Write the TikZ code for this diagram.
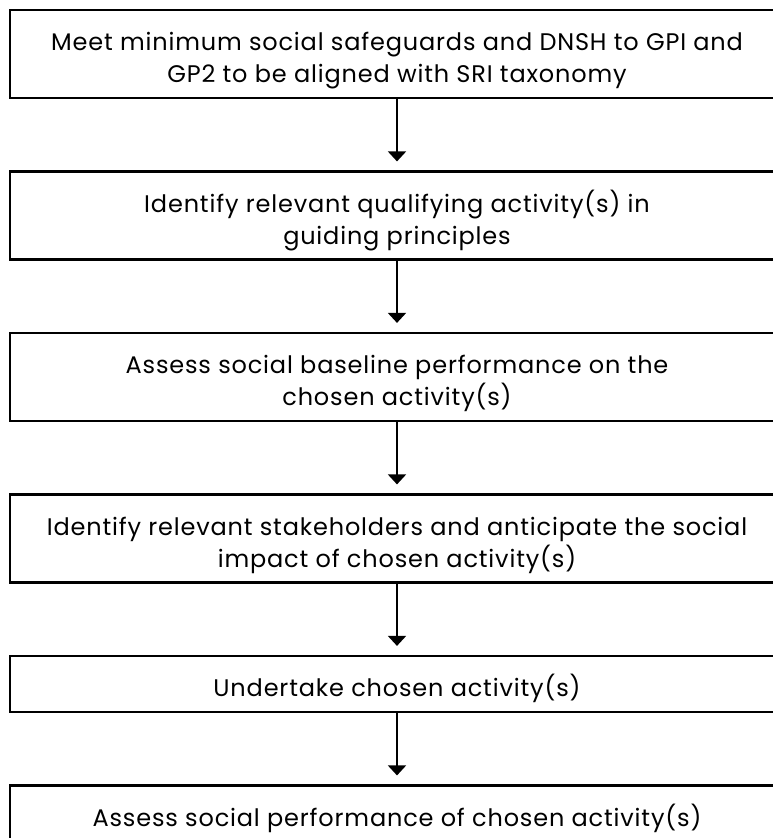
\documentclass[tikz,border=0pt]{standalone}
\usepackage{fontspec}
\setmainfont[LetterSpace=3.5]{Poppins}
\usetikzlibrary{arrows.meta,positioning}
\newcommand{\boxstrut}{\rule{0pt}{32pt}}

\begin{document}
\begin{tikzpicture}[x=1pt,y=-1pt,node distance=71.3pt]
  \useasboundingbox (0,0) rectangle (772,838);
  \begin{scope}[every node/.style={rectangle,draw,line width=2.2pt,minimum width=774pt,minimum height=88pt,align=center,font=\fontsize{24}{32}\selectfont}]
    \node (meet) at (397,54) {\boxstrut Meet minimum social safeguards and DNSH to GPI and\\GP2 to be aligned with SRI taxonomy};
    \node (identify) [below= of meet] {\boxstrut Identify relevant qualifying activity(s) in\\guiding principles};
    \node (baseline) [below= of identify] {\boxstrut Assess social baseline performance on the\\chosen activity(s)};
    \node (stakeholders) [below= of baseline] {\boxstrut Identify relevant stakeholders and anticipate the social\\impact of chosen activity(s)};
    \node (undertake) [below= of stakeholders, minimum height=56pt] {\boxstrut Undertake chosen activity(s)};
    \node (assess) [below= of undertake, minimum height=56pt] {\boxstrut Assess social performance of chosen activity(s)};
  \end{scope}
  \begin{scope}
    [every edge/.style={draw= black, line width=1.8pt, -{Triangle[width=18pt,length=10pt]}, shorten >=9pt}]
    \path (meet) edge (identify);
    \path (identify) edge (baseline);
    \path (baseline) edge (stakeholders);
    \path (stakeholders) edge (undertake);
    \path (undertake) edge (assess);
  \end{scope}
\end{tikzpicture}
\end{document}
